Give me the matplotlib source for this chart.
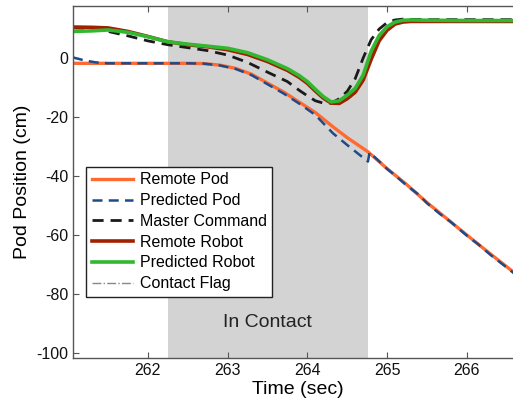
import matplotlib
matplotlib.use("Agg")
import matplotlib.pyplot as plt

plt.rcParams["font.family"] = ["Liberation Sans", "DejaVu Sans"]
plt.rcParams["axes.unicode_minus"] = False

# contact window and annotation
CONTACT_START, CONTACT_END = 262.25, 264.76

# pod positions (cm)
t_pod = [261.06, 261.2, 261.35, 261.5, 262.0, 262.5, 262.7, 262.9, 263.1, 263.3,
         263.5, 263.7, 263.9, 264.1, 264.32, 264.5, 264.76, 265.0, 265.25, 265.5,
         265.66, 266.0, 266.3, 266.7]
remote_pod = [-1.8, -1.8, -1.8, -1.8, -1.8, -1.8, -1.9, -2.4, -3.5, -5.5,
              -8.5, -11.5, -15.0, -18.5, -23.3, -27.0, -31.8, -37.5, -43.0, -49.0,
              -52.5, -60.0, -66.5, -75.0]

t_pred_pod = [261.06, 261.2, 261.35, 261.5, 262.0, 262.5, 262.7, 262.9, 263.1, 263.3,
              263.5, 263.7, 263.9, 264.1, 264.32, 264.5, 264.76, 264.78, 264.9, 265.0,
              265.1, 265.25, 265.4, 265.5, 265.66, 265.8, 266.0, 266.15, 266.3, 266.5, 266.7]
pred_pod = [0.2, -0.8, -1.5, -1.8, -1.8, -1.8, -1.9, -2.5, -3.7, -5.8,
            -8.9, -12.0, -15.5, -19.3, -25.5, -29.5, -35.1, -32.0, -35.0, -37.6,
            -39.8, -43.3, -46.4, -49.2, -52.8, -55.6, -60.2, -63.3, -66.8, -71.0, -75.3]

# robot positions and master command (cm)
t_robot = [261.06, 261.3, 261.5, 261.75, 262.0, 262.25, 262.5, 262.75, 263.0, 263.25,
           263.5, 263.75, 263.9, 264.0, 264.1, 264.2, 264.3, 264.4, 264.5, 264.6,
           264.7, 264.8, 264.9, 265.0, 265.1, 265.2, 265.3, 265.5, 266.0, 266.7]
remote_robot = [10.5, 10.4, 10.2, 9.0, 7.3, 5.5, 4.5, 3.8, 2.8, 1.2,
                -1.2, -4.2, -6.6, -8.6, -11.2, -13.6, -15.3, -15.4, -13.8, -11.6,
                -7.5, -0.5, 5.8, 9.4, 11.5, 12.2, 12.4, 12.4, 12.4, 12.4]
pred_robot = [9.0, 9.2, 9.5, 8.7, 7.2, 5.5, 4.7, 4.0, 3.3, 1.8,
              -0.6, -3.6, -6.0, -8.0, -10.6, -13.1, -14.9, -14.5, -12.6, -10.3,
              -5.8, 2.3, 7.6, 10.6, 12.2, 12.8, 12.9, 12.8, 12.7, 12.7]
master_cmd = [10.2, 10.0, 9.0, 7.5, 5.8, 4.5, 3.5, 2.5, 1.0, -1.5,
              -4.8, -8.0, -11.0, -12.8, -14.5, -15.3, -15.3, -13.8, -11.3, -7.0,
              0.0, 6.2, 9.8, 12.0, 12.9, 13.2, 13.1, 13.0, 13.0, 13.0]

fig = plt.figure(figsize=(5.13, 4.04), dpi=100)
ax = fig.add_axes([73 / 513, 46 / 404, 450 / 513, 352 / 404])

ax.axvspan(CONTACT_START, CONTACT_END, color="#d3d3d3", lw=0, zorder=0)
ax.text((CONTACT_START + CONTACT_END) / 2, -89.8, "In Contact", fontsize=14,
        ha="center", va="center", color="#222222")

ax.plot(t_pod, remote_pod, color="#ff6a30", lw=2.4, label="Remote Pod")
ax.plot(t_pred_pod, pred_pod, color="#1f4a8a", lw=1.8, ls=(0, (4, 2.5)), label="Predicted Pod")
ax.plot(t_robot, master_cmd, color="#1a1a1a", lw=2.0, ls=(0, (4, 2.5)), label="Master Command")
ax.plot(t_robot, remote_robot, color="#a02000", lw=2.6, label="Remote Robot")
ax.plot(t_robot, pred_robot, color="#30b830", lw=2.6, label="Predicted Robot")
ax.plot([], [], color="#888888", lw=1.0, ls="-.", label="Contact Flag")

ax.set_xlim(261.06, 266.705)
ax.set_ylim(-101.7, 17.63)
ax.set_xticks([262, 263, 264, 265, 266])
ax.set_yticks([-100, -80, -60, -40, -20, 0])
ax.tick_params(direction="in", length=4, labelsize=11.5, top=True, right=True,
               color="#555555", labelcolor="#111111")
for s in ax.spines.values():
    s.set_color("#555555")
    s.set_linewidth(1.0)

ax.set_xlabel("Time (sec)", fontsize=14, labelpad=2)
ax.set_ylabel("Pod Position (cm)", fontsize=14, labelpad=4)

leg = ax.legend(loc="upper left", bbox_to_anchor=(0.029, 0.543), borderaxespad=0,
                fontsize=11.5, handlelength=2.6, handletextpad=0.4, labelspacing=0.36,
                borderpad=0.35, fancybox=False, framealpha=1, edgecolor="#222222")
leg.get_frame().set_linewidth(1.0)

plt.savefig("out.png", dpi=100)
plt.close()
